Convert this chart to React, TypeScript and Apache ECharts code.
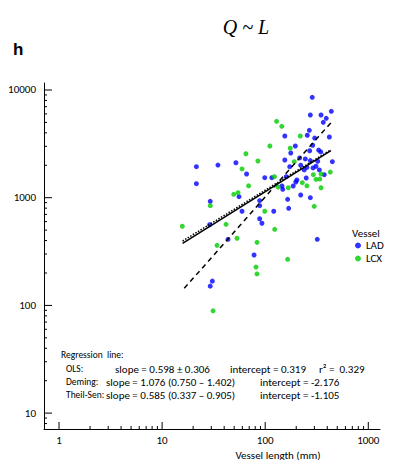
import React, { useEffect, useRef } from "react";
import * as echarts from "echarts";

// ---- data ----
const ladLength = [286, 274, 348, 438, 391, 366, 268, 155, 256, 302, 419, 196, 289, 270, 330, 346, 177, 155, 52, 21.5, 34.8, 216, 245, 274, 323, 448, 221, 173, 254, 311, 291, 335, 239, 66, 374, 99, 116, 160, 250, 203, 198, 21.5, 145.5, 187, 148, 55.7, 221, 165, 274, 29.3, 88.4, 88.4, 169, 59.6, 121, 88.4, 28.9, 93, 43.6, 320, 78, 30.7, 29.3];
const ladQ = [8550, 5860, 5860, 6340, 5460, 5010, 4225, 3740, 3800, 3580, 3660, 3020, 3070, 2730, 2770, 2660, 2600, 2240, 2110, 1940, 2010, 2340, 2290, 2210, 2180, 2160, 2000, 1940, 1915, 1960, 1890, 1810, 1810, 1660, 1635, 1534, 1534, 1567, 1524, 1460, 1400, 1350, 1284, 1284, 1197, 1022, 1060, 966, 1000, 926, 938, 843, 797, 748, 748, 638, 561, 579, 411, 411, 294, 168, 151];
const lcxLength = [129, 145, 219, 111, 175, 65, 85, 191.5, 59.6, 428, 348, 293, 311, 338, 69, 133, 254, 229, 167.5, 348, 54.5, 49.5, 29.3, 299, 99, 15.7, 41.7, 123.6, 53.3, 34.1, 83.3, 165, 81.4, 83.3, 31.2, 123];
const lcxQ = [5120, 4600, 3740, 3020, 2880, 2560, 2190, 2160, 1850, 1730, 1660, 1635, 1480, 1490, 1290, 1257, 1290, 1378, 1238, 1238, 1113, 1075, 843, 832, 748, 543, 566, 509, 420, 361, 385, 268, 227, 196, 89, 1567];

// regression lines: [length, Q] end points
const olsLine = [[15.8, 377], [434, 2730]];
const theilSenLine = [[15.8, 396], [434, 2786]];
const demingLine = [[16.4, 144], [434, 4970]];

const xMajorTicks = [1, 10, 100, 1000];
const xMinorTicks = [2, 3, 4, 5, 6, 7, 8, 9, 20, 30, 40, 50, 60, 70, 80, 90, 200, 300, 400, 500, 600, 700, 800, 900];
const yMajorTicks = [10, 100, 1000, 10000];
const yMinorTicks = [8, 9, 20, 30, 40, 50, 60, 70, 80, 90, 200, 300, 400, 500, 600, 700, 800, 900, 2000, 3000, 4000, 5000, 6000, 7000, 8000, 9000];

const X_MIN = 0.715;
const X_MAX = 1299;
const Y_MIN = 7.12;
const Y_MAX = 11614;

const FONT = "Carlito, Lato, 'Open Sans', sans-serif";

function zip(a: number[], b: number[]) {
  return a.map((v, i) => [v, b[i]]);
}

function tickSeries(axis: "x" | "y", values: number[], len: number, label: boolean) {
  return {
    type: "custom",
    silent: true,
    z: 5,
    clip: false,
    data: values.map((v) => (axis === "x" ? [v, Y_MIN] : [X_MIN, v])),
    renderItem: (_params: any, api: any) => {
      const v = api.value(axis === "x" ? 0 : 1);
      const p = api.coord(axis === "x" ? [v, Y_MIN] : [X_MIN, v]);
      const children: any[] = [
        {
          type: "line",
          shape:
            axis === "x"
              ? { x1: p[0], y1: p[1], x2: p[0], y2: p[1] - len }
              : { x1: p[0], y1: p[1], x2: p[0] + len, y2: p[1] },
          style: { stroke: "#000", lineWidth: 1 },
        },
      ];
      if (label) {
        children.push({
          type: "text",
          x: axis === "x" ? p[0] : p[0] - 8,
          y: axis === "x" ? p[1] + 11 : p[1],
          style: {
            text: String(Math.round(v)),
            fontSize: 11,
            fontFamily: FONT,
            fill: "#000",
            align: axis === "x" ? "center" : "right",
            verticalAlign: "middle",
          },
        });
      }
      return { type: "group", children };
    },
  };
}

function textEl(text: string, x: number, y: number, extra: any = {}) {
  return {
    type: "text",
    x,
    y,
    style: {
      text,
      fontSize: 11,
      fontFamily: FONT,
      fill: "#000",
      align: "left",
      verticalAlign: "middle",
      ...extra,
    },
  };
}

export default function App() {
  const ref = useRef<HTMLDivElement>(null);
  useEffect(() => {
    if (!ref.current) return;
    const chart = echarts.init(ref.current, null, { renderer: "svg" });
    const small = { fontSize: 9.5 };
    chart.setOption({
      animation: false,
      backgroundColor: "#fff",
      grid: { left: 44, right: 15, top: 83, bottom: 31, containLabel: false },
      xAxis: {
        type: "log",
        logBase: 10,
        min: X_MIN,
        max: X_MAX,
        axisLine: { show: true, onZero: false, lineStyle: { color: "#000", width: 1 } },
        axisTick: { show: false },
        axisLabel: { show: false },
        splitLine: { show: false },
      },
      yAxis: {
        type: "log",
        logBase: 10,
        min: Y_MIN,
        max: Y_MAX,
        axisLine: { show: true, onZero: false, lineStyle: { color: "#000", width: 1 } },
        axisTick: { show: false },
        axisLabel: { show: false },
        splitLine: { show: false },
      },
      legend: {
        orient: "vertical",
        left: 355,
        top: 239,
        padding: 0,
        itemGap: 0,
        itemWidth: 6,
        itemHeight: 6,
        icon: "circle",
        textStyle: { fontSize: 11, fontFamily: FONT, color: "#000", lineHeight: 13 },
        data: ["LAD", "LCX"],
      },
      graphic: [
        {
          type: "text",
          x: 246,
          y: 27,
          style: {
            text: "Q ~ L",
            fontSize: 20,
            fontStyle: "italic",
            fontFamily: "'Liberation Serif', 'DejaVu Serif', serif",
            fill: "#000",
            align: "center",
            verticalAlign: "middle",
          },
        },
        {
          type: "text",
          x: 13,
          y: 49,
          style: {
            text: "h",
            fontSize: 17,
            fontWeight: "bold",
            fontFamily: "'Liberation Sans', Arial, sans-serif",
            fill: "#000",
            align: "left",
            verticalAlign: "middle",
          },
        },
        textEl("Vessel", 352, 233),
        textEl("Regression  line:", 61, 355, small),
        textEl("OLS:", 66, 369, small),
        textEl("slope = 0.598 ± 0.306", 115, 369),
        textEl("intercept = 0.319", 230, 369),
        textEl("r² =  0.329", 319, 369),
        textEl("Deming:", 66, 382, small),
        textEl("slope = 1.076 (0.750 – 1.402)", 106, 382),
        textEl("intercept = -2.176", 260, 382),
        textEl("Theil-Sen:", 66, 395, small),
        textEl("slope = 0.585 (0.337 – 0.905)", 106, 395),
        textEl("intercept = -1.105", 260, 395),
        textEl("Vessel length (mm)", 278, 455, { align: "center" }),
      ],
      series: [
        {
          name: "LAD",
          type: "scatter",
          data: zip(ladLength, ladQ),
          symbol: "circle",
          symbolSize: 5,
          itemStyle: { color: "#0000ff" },
          z: 2,
        },
        {
          name: "LCX",
          type: "scatter",
          data: zip(lcxLength, lcxQ),
          symbol: "circle",
          symbolSize: 5,
          itemStyle: { color: "#00cc00" },
          z: 2,
        },
        {
          name: "OLS",
          type: "line",
          data: olsLine,
          showSymbol: false,
          symbol: "none",
          lineStyle: { color: "#000", width: 1.5, type: "solid" },
          z: 3,
        },
        {
          name: "Theil-Sen",
          type: "line",
          data: theilSenLine,
          showSymbol: false,
          symbol: "none",
          lineStyle: { color: "#000", width: 1.5, type: [1.5, 1.5] },
          z: 3,
        },
        {
          name: "Deming",
          type: "line",
          data: demingLine,
          showSymbol: false,
          symbol: "none",
          lineStyle: { color: "#000", width: 1.5, type: [5, 4] },
          z: 3,
        },
        tickSeries("x", xMajorTicks, 7, true),
        tickSeries("x", xMinorTicks, 3, false),
        tickSeries("y", yMajorTicks, 8, true),
        tickSeries("y", yMinorTicks, 3, false),
      ],
    });
    return () => chart.dispose();
  }, []);
  return (
    <div
      ref={ref}
      style={{ position: "fixed", left: 0, top: 0, width: 395, height: 460, background: "#fff" }}
    />
  );
}
